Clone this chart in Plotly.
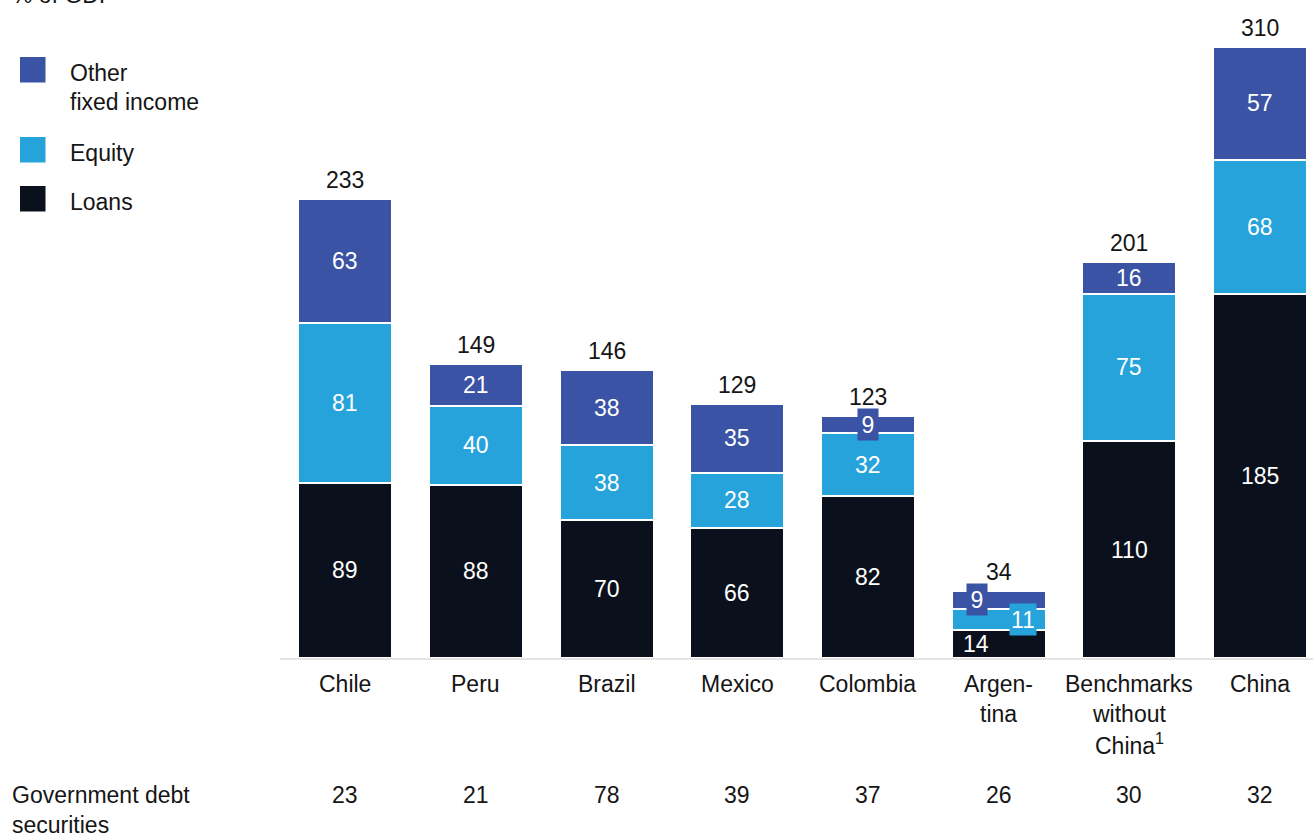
import plotly.graph_objects as go

# ---------------- data ----------------
categories = ["Chile", "Peru", "Brazil", "Mexico", "Colombia", "Argentina",
              "Benchmarks without China", "China"]
category_lines = [["Chile"], ["Peru"], ["Brazil"], ["Mexico"], ["Colombia"],
                  ["Argen-", "tina"], ["Benchmarks", "without", "China<sup>1</sup>"],
                  ["China"]]
loans = [89, 88, 70, 66, 82, 14, 110, 185]
equity = [81, 40, 38, 28, 32, 11, 75, 68]
other_fixed = [63, 21, 38, 35, 9, 9, 16, 57]
totals = [233, 149, 146, 129, 123, 34, 201, 310]
gov_debt = [23, 21, 78, 39, 37, 26, 30, 32]

series_names = ["Loans", "Equity", "Other fixed income"]
legend_lines = [["Other", "fixed income"], ["Equity"], ["Loans"]]
unit_label = "% of GDP"
row_label = ["Government debt", "securities"]

# ---------------- style ----------------
C_OTHER = "#3A53A4"
C_EQUITY = "#27A3DC"
C_LOANS = "#0B111C"
TXT = "#151515"
FONT = "Liberation Sans"
FS = 23

W_FIG, H_FIG = 1313, 836
L, R, T, B = 280, 1313, 27, 658   # plot area in pixels
PW, PH = R - L, B - T


def px_x(px):
    return (px - L) / PW


def px_y(py):
    return (B - py) / PH


fig = go.Figure()
colors = [C_LOANS, C_EQUITY, C_OTHER]
for name, vals, col in zip(series_names, [loans, equity, other_fixed], colors):
    fig.add_trace(go.Bar(
        x=categories, y=vals, name=name, marker=dict(color=col, line=dict(color="white", width=2)),
        width=0.72, hoverinfo="skip", showlegend=False,
    ))

ann = []

# segment labels
special = {  # (category index, series index): (xshift, boxed)
    (4, 2): (0, True),
    (5, 2): (-22, True),
    (5, 1): (24, True),
    (5, 0): (-23, False),
}
for i, cat in enumerate(categories):
    base = 0
    for s, (vals, col) in enumerate(zip([loans, equity, other_fixed], colors)):
        v = vals[i]
        mid = base + v / 2
        base += v
        xs, boxed = special.get((i, s), (0, False))
        a = dict(x=cat, y=mid, xref="x", yref="y", text=str(v), showarrow=False,
                 font=dict(family=FONT, size=FS, color="white"), xshift=xs,
                 xanchor="center", yanchor="middle")
        if boxed:
            a.update(bgcolor=col, borderpad=2, width=16 if v < 10 else 22, height=27)
        ann.append(a)
    # totals
    ann.append(dict(x=cat, y=totals[i], xref="x", yref="y", text=str(totals[i]),
                    showarrow=False, font=dict(family=FONT, size=FS, color=TXT),
                    yshift=19, yanchor="middle"))
    # category labels
    for k, line in enumerate(category_lines[i]):
        ann.append(dict(x=cat, y=0, xref="x", yref="paper", text=line, showarrow=False,
                        font=dict(family=FONT, size=FS, color=TXT),
                        yshift=-(684 + 30 * k - B), yanchor="middle"))
    # government debt row
    ann.append(dict(x=cat, y=0, xref="x", yref="paper", text=str(gov_debt[i]),
                    showarrow=False, font=dict(family=FONT, size=FS, color=TXT),
                    yshift=-(795 - B), yanchor="middle"))

# row label
for k, line in enumerate(row_label):
    ann.append(dict(x=px_x(10), y=px_y(795 + 30 * k), xref="paper", yref="paper",
                    text=line, showarrow=False, xanchor="left", yanchor="middle",
                    font=dict(family=FONT, size=FS, color=TXT)))

# unit label (cropped at top in reference)
ann.append(dict(x=px_x(10), y=px_y(-5), xref="paper", yref="paper", text=unit_label,
                showarrow=False, xanchor="left", yanchor="middle",
                font=dict(family=FONT, size=FS, color=TXT)))

# custom legend
shapes = []
leg_sq_tops = [57, 137, 186]
leg_colors = [C_OTHER, C_EQUITY, C_LOANS]
for top, col, lines in zip(leg_sq_tops, leg_colors, legend_lines):
    shapes.append(dict(type="rect", xref="paper", yref="paper",
                       x0=px_x(20), x1=px_x(45.5), y0=px_y(top + 25.5), y1=px_y(top),
                       fillcolor=col, line=dict(width=0)))
    for k, line in enumerate(lines):
        ann.append(dict(x=px_x(68), y=px_y(top + 16 + 29 * k), xref="paper", yref="paper",
                        text=line, showarrow=False, xanchor="left", yanchor="middle",
                        font=dict(family=FONT, size=FS, color=TXT)))

fig.update_layout(
    width=W_FIG, height=H_FIG,
    margin=dict(l=L, r=W_FIG - R, t=T, b=H_FIG - B, pad=0),
    barmode="stack",
    paper_bgcolor="white", plot_bgcolor="white",
    font=dict(family=FONT, size=FS, color=TXT),
    xaxis=dict(type="category", range=[-0.5, 7.406], showticklabels=False, ticks="",
               showgrid=False, zeroline=False, showline=True, linecolor="#E4E4E4",
               linewidth=1.5, fixedrange=True),
    yaxis=dict(range=[0, PH / 1.97], visible=False, fixedrange=True),
    annotations=ann, shapes=shapes, hovermode=False, showlegend=False,
)

fig.write_html("out.html", config={"displayModeBar": False},
               post_script="document.body.style.margin='0';document.body.style.overflow='hidden';")
